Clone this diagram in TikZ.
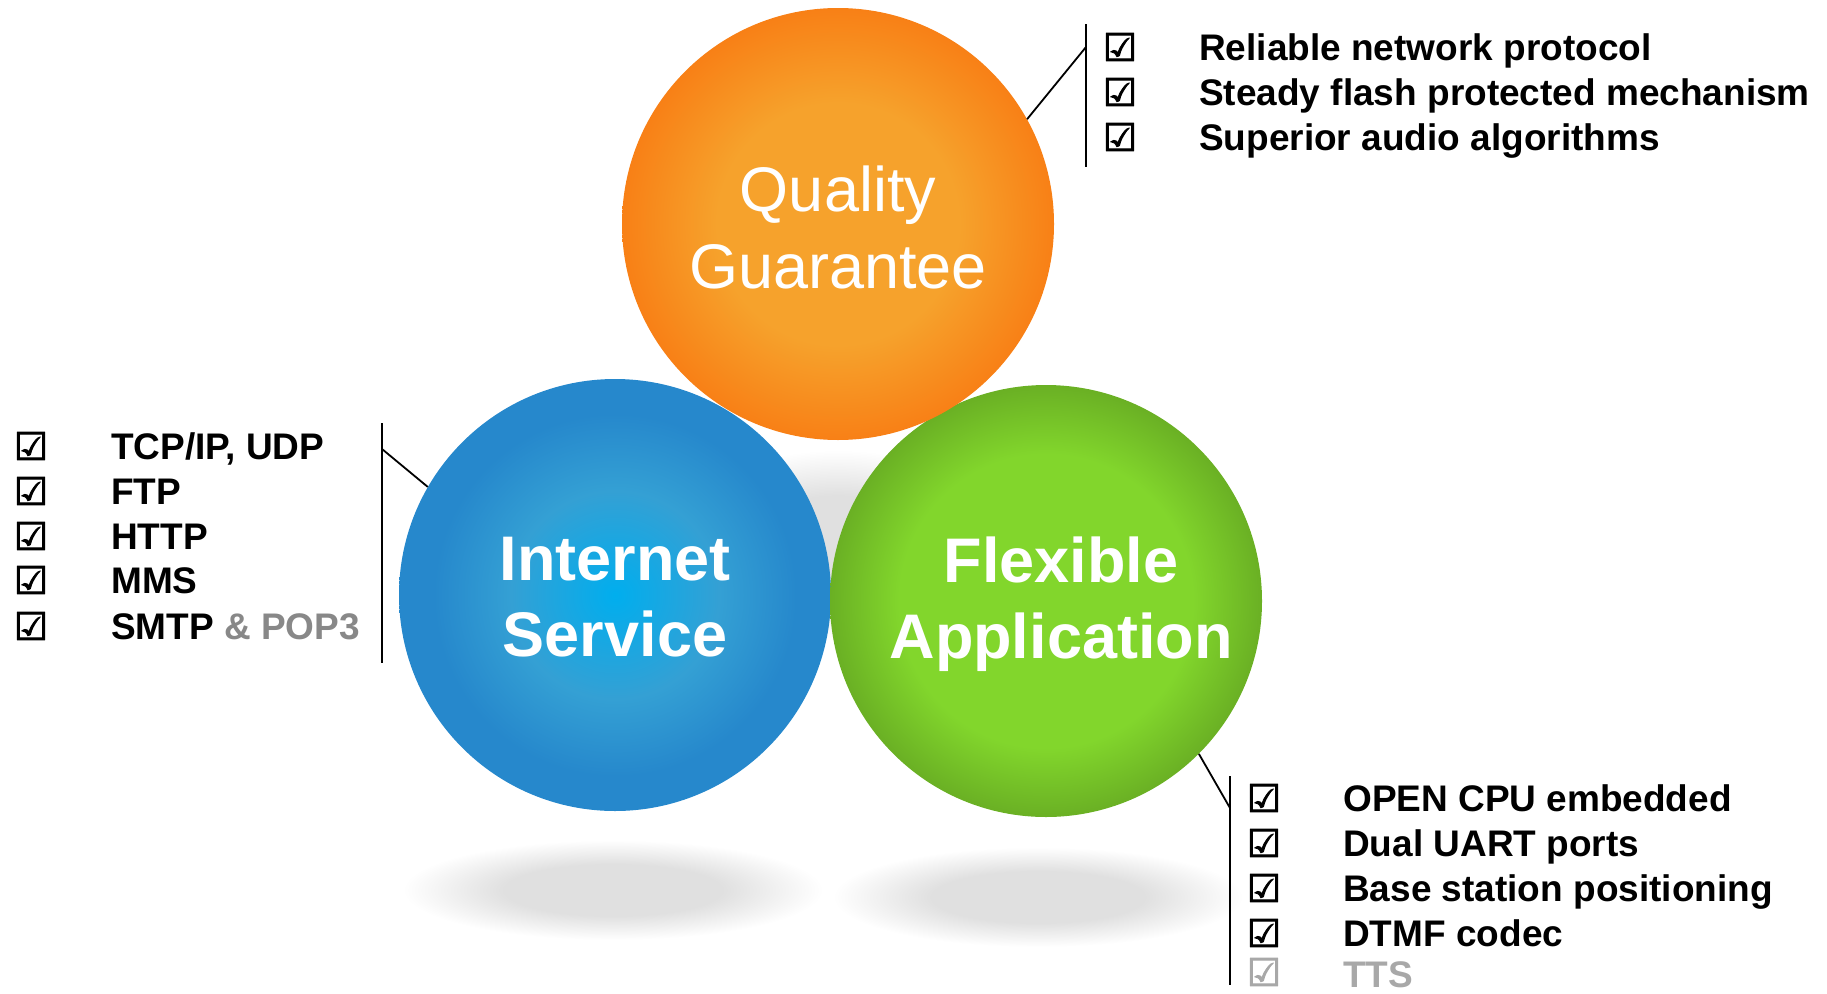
\documentclass[tikz,border=0pt]{standalone}
\usepackage{fontspec}
\setmainfont{Liberation Sans}
\newfontfamily\boxfont[FakeBold=2.5]{DejaVu Sans}
\usetikzlibrary{positioning}

\definecolor{orangein}{RGB}{246,162,44}
\definecolor{orangeout}{RGB}{248,128,22}
\definecolor{bluein}{RGB}{0,174,238}
\definecolor{bluemid}{RGB}{52,160,212}
\definecolor{blueout}{RGB}{38,136,204}
\definecolor{greenin}{RGB}{130,214,44}
\definecolor{greenout}{RGB}{106,176,36}
\definecolor{shadowgray}{RGB}{224,224,224}
\definecolor{popgray}{RGB}{136,136,136}
\definecolor{ttsgray}{RGB}{168,168,168}

\pgfdeclareradialshading{orangeball}{\pgfpoint{0bp}{0bp}}{color(0bp)=(orangein); color(14bp)=(orangein); color(25bp)=(orangeout); color(50bp)=(orangeout)}
\pgfdeclareradialshading{blueball}{\pgfpoint{0bp}{0bp}}{color(0bp)=(bluein); color(12bp)=(bluemid); color(21bp)=(blueout); color(25bp)=(blueout); color(50bp)=(blueout)}
\pgfdeclareradialshading{greenball}{\pgfpoint{0bp}{0bp}}{color(0bp)=(greenin); color(17bp)=(greenin); color(25bp)=(greenout); color(50bp)=(greenout)}
\pgfdeclareradialshading{softshadow}{\pgfpoint{0bp}{0bp}}{color(0bp)=(shadowgray); color(13bp)=(shadowgray); color(25bp)=(white); color(50bp)=(white)}

\begin{document}
\begin{tikzpicture}[x=1pt,y=-1pt,
    ball/.style={circle, minimum size=432pt, inner sep=0pt},
    title/.style={text=white, anchor=base, inner sep=0pt, font=\fontsize{63}{76}\selectfont},
    item/.style={anchor=base west, inner sep=0pt, font=\bfseries\fontsize{37}{44}\selectfont},
    tick/.style={inner sep=0pt, font=\boxfont\fontsize{38}{44}\selectfont},
    bracket/.style={line width=1.8pt}
    ]
\useasboundingbox (0,0) rectangle (1827,993);

% soft shadows
\shade[shading=softshadow] (838,545) ellipse (175 and 95);
\shade[shading=softshadow] (613,890) ellipse (210 and 50);
\shade[shading=softshadow] (1038,897) ellipse (205 and 50);

% the three balls
\node[ball, shading=blueball] (is) at (615,595) {};
\node[ball, shading=greenball] (fa) at (1046,601) {};
\node[ball, shading=orangeball] (qg) at (838,224) {};

\node[title] (qg1) at (838,211) {Quality};
\node[title] (qg2) at (838,288) {Guarantee};
\node[title, font=\bfseries\fontsize{63}{76}\selectfont] (is1) at (615,580) {Internet};
\node[title, font=\bfseries\fontsize{63}{76}\selectfont] (is2) at (615,656) {Service};
\node[title, font=\bfseries\fontsize{63}{76}\selectfont] (fa1) at (1061,582) {Flexible};
\node[title, font=\bfseries\fontsize{63}{76}\selectfont] (fa2) at (1061,658) {Application};

% brackets
\coordinate (qtop) at (1086,24);
\coordinate (qbot) at (1086,167);
\coordinate (qjoin) at (1086,47);
\draw[bracket] (qtop) -- (qbot);
\draw[bracket] (qg.29) -- (qjoin);

\coordinate (itop) at (382,423);
\coordinate (ibot) at (382,663);
\coordinate (ijoin) at (382,449);
\draw[bracket] (itop) -- (ibot);
\draw[bracket] (is.150) -- (ijoin);

\coordinate (ftop) at (1230,776);
\coordinate (fbot) at (1230,985);
\coordinate (fjoin) at (1230,808);
\draw[bracket] (ftop) -- (fbot);
\draw[bracket] (fa.-45) -- (fjoin);

% quality list
\node[tick] (qb1) at (1120,47) {☑};
\node[tick] (qb2) at (1120,92) {☑};
\node[tick] (qb3) at (1120,137) {☑};
\node[item] (qt1) at (1199,60) {Reliable network protocol};
\node[item] (qt2) at (1199,105) {Steady flash protected mechanism};
\node[item] (qt3) at (1199,150) {Superior audio algorithms};

% internet list
\node[tick] (ib1) at (31,446) {☑};
\node[tick] (ib2) at (31,491) {☑};
\node[tick] (ib3) at (31,536) {☑};
\node[tick] (ib4) at (31,580) {☑};
\node[tick] (ib5) at (31,626) {☑};
\node[item] (it1) at (111,459) {TCP/IP, UDP};
\node[item] (it2) at (111,504) {FTP};
\node[item] (it3) at (111,549) {HTTP};
\node[item] (it4) at (111,593) {MMS};
\node[item] (it5) at (111,639) {SMTP \textcolor{popgray}{\& POP3}};

% application list
\node[tick] (fb1) at (1264,798) {☑};
\node[tick] (fb2) at (1264,843) {☑};
\node[tick] (fb3) at (1264,888) {☑};
\node[tick] (fb4) at (1264,933) {☑};
\node[tick, text=ttsgray] (fb5) at (1264,972) {☑};
\node[item] (ft1) at (1343,811) {OPEN CPU embedded};
\node[item] (ft2) at (1343,856) {Dual UART ports};
\node[item] (ft3) at (1343,901) {Base station positioning};
\node[item] (ft4) at (1343,946) {DTMF codec};
\node[item, text=ttsgray] (ft5) at (1343,987) {TTS};
\end{tikzpicture}
\end{document}
